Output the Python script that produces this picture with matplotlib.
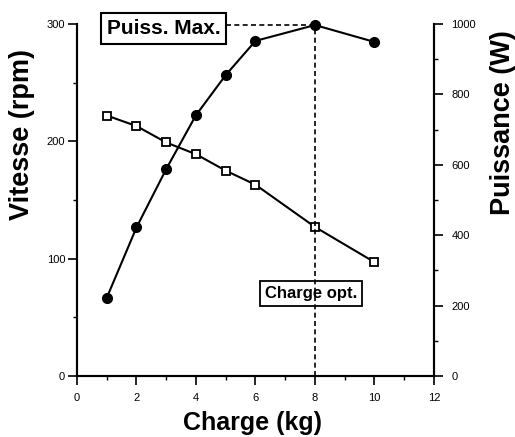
import matplotlib.pyplot as plt
import numpy as np

plt.rcParams['font.family'] = ['Liberation Sans', 'DejaVu Sans']

# donnees
charge = [1, 2, 3, 4, 5, 6, 8, 10]
vitesse = [222, 213, 199, 189, 175, 163, 127, 97]      # rpm
puissance = [222, 422, 588, 741, 855, 952, 997, 949]   # W
charge_opt = 8
puiss_max = 997

fig = plt.figure(figsize=(5.15, 4.37), dpi=100)
ax = fig.add_axes([0.1495, 0.1396, 0.6932, 0.8055])
ax2 = ax.twinx()

# vitesse (axe gauche)
ax.plot(charge, vitesse, 'k-', lw=1.5, marker='s', mfc='white', mec='k',
        mew=1.3, ms=6, zorder=3, clip_on=False)
# puissance (axe droit)
ax2.plot(charge, puissance, 'k-', lw=1.5, marker='o', mfc='k', mec='k',
         ms=7, zorder=3, clip_on=False)

# lignes pointillees
ax2.plot([charge_opt, charge_opt], [0, puiss_max], 'k--', lw=1.2, dashes=(3, 2))
ax2.plot([5.0, charge_opt], [puiss_max, puiss_max], 'k--', lw=1.2, dashes=(3, 2))

ax.set_xlim(0, 12)
ax.set_ylim(0, 300)
ax2.set_ylim(0, 1000)

ax.set_xticks(np.arange(0, 13, 2))
ax.set_xticks(np.arange(0, 13, 1), minor=True)
ax.set_yticks([0, 100, 200, 300])
ax.set_yticks(np.arange(0, 301, 50), minor=True)
ax2.set_yticks(np.arange(0, 1001, 200))
ax2.set_yticks(np.arange(0, 1001, 100), minor=True)

for a in (ax, ax2):
    a.spines['top'].set_visible(False)
    for s in a.spines.values():
        s.set_linewidth(1.5)
    a.tick_params(which='major', length=6.5, width=1.2, labelsize=8, pad=2)
    a.tick_params(which='minor', length=3, width=1.0)
ax.tick_params(axis='x', which='major', pad=6)
ax2.tick_params(axis='y', which='major', pad=6)

ax.set_xlabel('Charge (kg)', fontsize=18, fontweight='bold')
ax.xaxis.set_label_coords(0.493, -0.1)
ax.set_ylabel('Vitesse (rpm)', fontsize=19.5, fontweight='bold')
ax.yaxis.set_label_coords(-0.118, 0.685)
ax2.set_ylabel('Puissance (W)', fontsize=19.5, fontweight='bold', rotation=90)
ax2.yaxis.set_label_coords(1.157, 0.72)

ax.text(1.01, 296, 'Puiss. Max.', fontsize=15, fontweight='bold', ha='left', va='center',
        bbox=dict(boxstyle='square,pad=0.28', fc='white', ec='k', lw=1.5), zorder=5)
ax.text(6.32, 70, 'Charge opt.', fontsize=12, fontweight='bold', ha='left', va='center',
        bbox=dict(boxstyle='square,pad=0.3', fc='white', ec='k', lw=1.3), zorder=5)

fig.savefig('out.png', dpi=100)
